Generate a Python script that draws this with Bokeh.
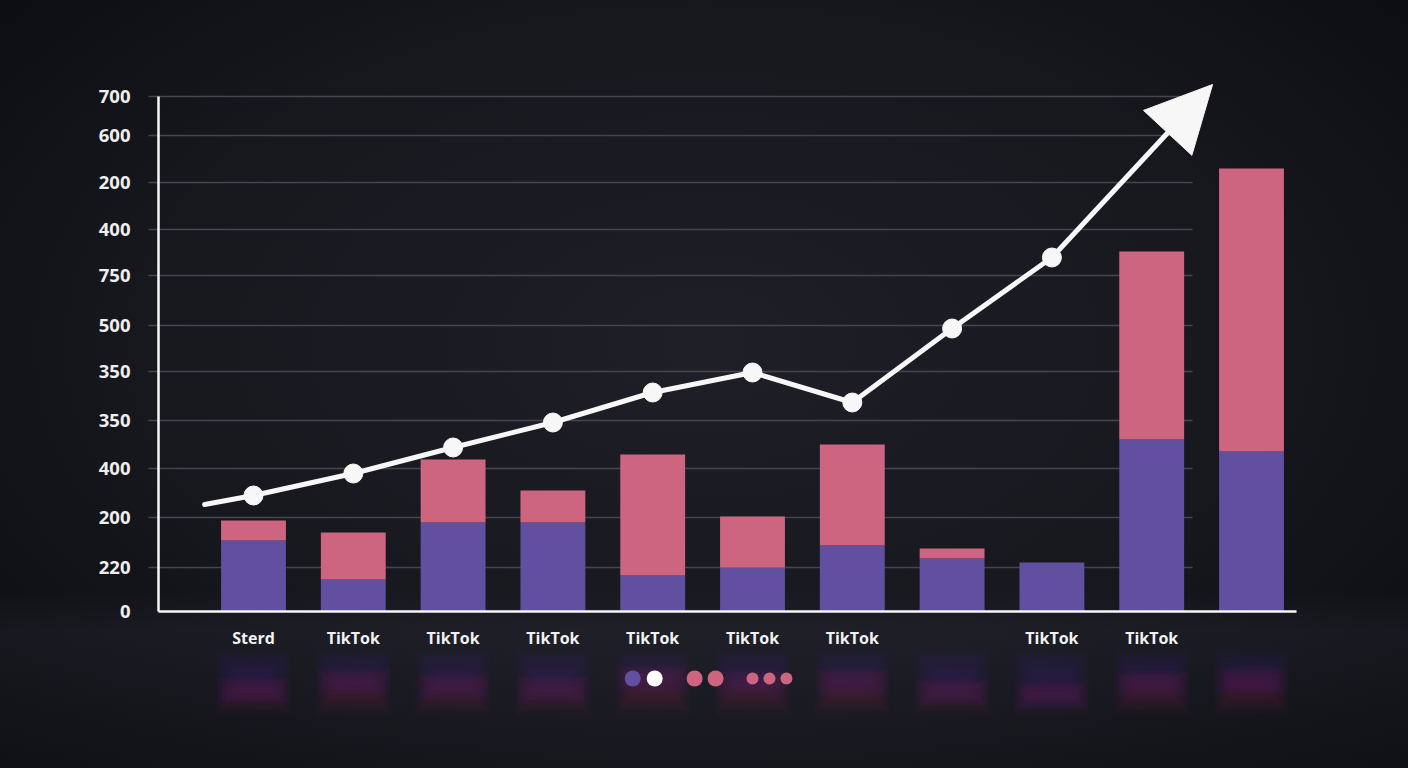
from bokeh.plotting import figure
from bokeh.models import Range1d, FixedTicker, Arrow, NormalHead
from bokeh.embed import file_html
from bokeh.resources import INLINE

# ---- data ----
x_labels = ["Sterd", "TikTok", "TikTok", "TikTok", "TikTok", "TikTok", "TikTok", "", "TikTok", "TikTok", ""]
purple_vals = [71, 32, 89, 89, 36, 44, 66, 53, 49, 172, 160]
pink_vals = [20, 47, 63, 32, 121, 51, 101, 10, 0, 188, 283]
trend_vals = [116, 138, 164, 189, 219, 239, 209, 283, 354]
trend_start_x, trend_start_y = -0.49, 107
arrow_tip_x, arrow_tip_y = 9.61, 527

y_tick_pos = [0, 44, 94, 143, 191, 240, 286, 336, 382, 429, 476, 515]
y_tick_labels = ["0", "220", "200", "400", "350", "350", "500", "750", "400", "200", "600", "700"]

legend_colors = ["#6150a0", "#ffffff", "#cd6580", "#cd6580", "#cd6580", "#cd6580", "#cd6580"]
legend_sizes = [16, 16, 16, 16, 12, 12, 12]
legend_x = [3.80, 4.02, 4.42, 4.63, 5.00, 5.17, 5.34]
legend_y = -67

PURPLE = "#6150a0"
PINK = "#cd6580"
WHITE = "#f7f7f7"
GRID = "#44454f"

idx = list(range(len(x_labels)))

p = figure(width=1408, height=768, output_backend="svg", toolbar_location=None,
           title=None, x_range=Range1d(-2.535, 11.573), y_range=Range1d(-157, 611),
           min_border=0, min_border_left=0, min_border_right=0,
           min_border_top=0, min_border_bottom=0)
p.background_fill_alpha = 0
p.border_fill_alpha = 0
p.outline_line_color = None
p.xgrid.visible = False
p.ygrid.visible = False

# grid lines (behind bars)
grid_y = y_tick_pos[1:]
p.segment(x0=[-1.052] * len(grid_y), x1=[9.41] * len(grid_y), y0=grid_y, y1=grid_y,
          line_color=GRID, line_width=1.5)

# reflections under the axis (soft, blurred look)
n_layers = 12
for k in range(n_layers):
    a = 0.018
    grow = k * 0.035
    pad = k * 2.2
    p_top, p_bot, r_top, r_bot = [], [], [], []
    for pu, pi in zip(purple_vals, pink_vals):
        share = pu / (pu + pi)
        mid = -62 - 22 * share
        p_top.append(-62 + pad)
        p_bot.append(mid - pad * 0.6)
        r_top.append(mid + pad * 0.6)
        r_bot.append(-80 - pad)
    p.vbar(x=idx, width=0.38 + grow, top=p_top, bottom=p_bot, fill_color="#5a48c0",
           fill_alpha=a, line_color=None)
    p.vbar(x=idx, width=0.38 + grow, top=r_top, bottom=r_bot, fill_color="#b8405a",
           fill_alpha=a, line_color=None)

# stacked bars
p.vbar(x=idx, width=0.65, bottom=0, top=purple_vals, fill_color=PURPLE, line_color=None)
p.vbar(x=idx, width=0.65, bottom=purple_vals,
       top=[a + b for a, b in zip(purple_vals, pink_vals)], fill_color=PINK, line_color=None)

# trend line with arrow
line_x = [trend_start_x] + idx[:len(trend_vals)]
line_y = [trend_start_y] + trend_vals
p.line(line_x, line_y, line_width=5, line_color=WHITE, line_join="round", line_cap="round")
p.add_layout(Arrow(end=NormalHead(size=66, fill_color=WHITE, line_color=WHITE, line_width=1),
                   x_start=idx[len(trend_vals) - 1], y_start=trend_vals[-1],
                   x_end=arrow_tip_x, y_end=arrow_tip_y,
                   line_width=5, line_color=WHITE))
p.scatter(idx[:len(trend_vals)], trend_vals, size=19, fill_color=WHITE, line_color=WHITE)

# legend dots
p.scatter(legend_x, [legend_y] * len(legend_x), size=legend_sizes,
          fill_color=legend_colors, line_color=None)

# axes
yax = p.yaxis[0]
yax.fixed_location = -0.952
yax.bounds = (0, y_tick_pos[-1])
yax.ticker = FixedTicker(ticks=y_tick_pos)
yax.major_label_overrides = {t: l for t, l in zip(y_tick_pos, y_tick_labels)}
yax.axis_line_color = WHITE
yax.axis_line_width = 2.5
yax.major_tick_line_color = None
yax.minor_tick_line_color = None
yax.major_label_standoff = 22
yax.major_label_text_font = "Open Sans"
yax.major_label_text_font_style = "bold"
yax.major_label_text_font_size = "18.5px"
yax.major_label_text_color = "#eeeeee"

xax = p.xaxis[0]
xax.fixed_location = 0
xax.bounds = (-0.952, 10.45)
xax.ticker = FixedTicker(ticks=idx)
xax.major_label_overrides = {i: l for i, l in zip(idx, x_labels)}
xax.axis_line_color = WHITE
xax.axis_line_width = 2.5
xax.major_tick_line_color = None
xax.minor_tick_line_color = None
xax.major_label_standoff = 9
xax.major_label_text_font = "Open Sans"
xax.major_label_text_font_style = "bold"
xax.major_label_text_font_size = "16px"
xax.major_label_text_color = "#f2f2f2"

html = file_html(p, INLINE)
bg = ("html, body { background:"
      "linear-gradient(to bottom, rgba(0,0,0,0) 0%, rgba(0,0,0,0) 77%, rgba(44,44,58,0.30) 82%, rgba(34,34,46,0.22) 100%),"
      "radial-gradient(ellipse 72% 78% at 50% 45%, #1e1f27 0%, #17181e 55%, #0a0b0e 100%) !important;"
      "background-color:#0e0f13 !important; }")
html = html.replace("</head>", "<style>" + bg + "</style></head>", 1)
open("out.html", "w").write(html)
